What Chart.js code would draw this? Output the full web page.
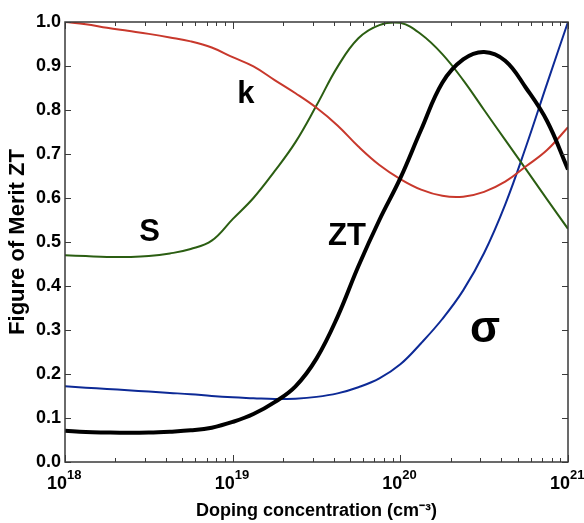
<!DOCTYPE html>
<html>
<head>
<meta charset="utf-8">
<script src="https://cdn.jsdelivr.net/npm/chart.js@4.4.0/dist/chart.umd.min.js"></script>
<style>
  html,body{margin:0;padding:0;background:#fff}
  #wrap{width:584px;height:523px}
</style>
</head>
<body>
<div id="wrap"><canvas id="chart" width="584" height="523"></canvas></div>
<script>
  // doping concentration (cm^-3), eight samples per decade
  const doping=[1e18,1.33e18,1.78e18,2.37e18,3.16e18,4.22e18,5.62e18,7.5e18,
    1e19,1.33e19,1.78e19,2.37e19,3.16e19,4.22e19,5.62e19,7.5e19,
    1e20,1.33e20,1.78e20,2.37e20,3.16e20,4.22e20,5.62e20,7.5e20,1e21];
  const kValues=[1.0,0.995,0.987,0.98,0.973,0.965,0.956,0.942,0.92,0.899,0.868,0.838,0.805,0.765,0.717,0.675,0.643,0.619,0.605,0.603,0.614,0.637,0.672,0.709,0.761];
  const sValues=[0.47,0.468,0.466,0.466,0.468,0.474,0.484,0.503,0.552,0.6,0.661,0.727,0.81,0.898,0.963,0.993,0.998,0.972,0.927,0.868,0.8,0.732,0.665,0.597,0.53];
  const ztValues=[0.071,0.068,0.067,0.0665,0.067,0.069,0.072,0.078,0.091,0.109,0.136,0.172,0.235,0.33,0.445,0.55,0.645,0.755,0.862,0.915,0.932,0.912,0.85,0.775,0.665];
  const sigmaValues=[0.172,0.169,0.166,0.163,0.16,0.157,0.154,0.15,0.147,0.145,0.143,0.144,0.148,0.156,0.17,0.19,0.222,0.27,0.325,0.39,0.475,0.585,0.717,0.86,1.0];
  const decades=[1e18,1e19,1e20,1e21];
  const yTicks=[0,0.1,0.2,0.3,0.4,0.5,0.6,0.7,0.8,0.9,1.0];

  const FONT='"Liberation Sans", Arial, sans-serif';

  function toPoints(values){
    return doping.map((d,i)=>({x:d,y:values[i]}));
  }

  // curve names written next to each curve, in data coordinates
  const curveLabels=[
    {text:'k',x:1.2e19,y:0.835,size:31},
    {text:'S',x:3.2e18,y:0.522,size:31},
    {text:'ZT',x:4.8e19,y:0.512,size:31},
    {text:'σ',x:3.2e20,y:0.3,size:44}
  ];

  const frameTicks={
    id:'frameTicks',
    afterDatasetsDraw(chart){
      const {ctx,chartArea:a,scales:{x,y}}=chart;
      ctx.save();
      ctx.strokeStyle='#3a3a3a';
      ctx.lineWidth=1;
      for(let e=18;e<21;e++){
        for(let m=1;m<=10;m++){
          const px=Math.round(x.getPixelForValue(m*Math.pow(10,e)))+0.5;
          const len=(m===1||m===10)?7:4;
          ctx.beginPath();
          ctx.moveTo(px,a.bottom);ctx.lineTo(px,a.bottom-len);
          ctx.moveTo(px,a.top);ctx.lineTo(px,a.top+len);
          ctx.stroke();
        }
      }
      yTicks.forEach(v=>{
        const py=Math.round(y.getPixelForValue(v))+0.5;
        ctx.beginPath();
        ctx.moveTo(a.left,py);ctx.lineTo(a.left+6,py);
        ctx.moveTo(a.right,py);ctx.lineTo(a.right-6,py);
        ctx.stroke();
      });
      ctx.lineWidth=1.5;
      ctx.strokeRect(a.left,a.top,a.right-a.left,a.bottom-a.top);
      ctx.fillStyle='#000';
      ctx.textAlign='center';
      ctx.textBaseline='middle';
      curveLabels.forEach(l=>{
        ctx.font='bold '+l.size+'px '+FONT;
        ctx.fillText(l.text,x.getPixelForValue(l.x),y.getPixelForValue(l.y));
      });
      // exponents of the decade labels ("10" itself is drawn by the axis)
      ctx.font='bold 13px '+FONT;
      ctx.textAlign='left';
      ctx.textBaseline='alphabetic';
      decades.forEach(v=>{
        const px=x.getPixelForValue(v);
        ctx.fillText(String(Math.round(Math.log10(v))),px+2,a.bottom+17);
      });
      ctx.restore();
    }
  };

  function lineSet(label,values,color,width,order){
    return {label,data:toPoints(values),borderColor:color,backgroundColor:color,borderWidth:width,pointRadius:0,fill:false,tension:0.4,order};
  }

  new Chart(document.getElementById('chart'),{
    type:'line',
    data:{datasets:[
      lineSet('ZT',ztValues,'#000000',4,0),
      lineSet('k',kValues,'#c8382c',2,1),
      lineSet('S',sValues,'#2b5e12',2,2),
      lineSet('σ',sigmaValues,'#0d2a96',2,3)
    ]},
    options:{
      responsive:false,
      animation:false,
      events:[],
      layout:{padding:{top:22,right:16,left:0,bottom:0}},
      plugins:{legend:{display:false},tooltip:{enabled:false}},
      scales:{
        x:{
          type:'logarithmic',
          min:1e18,max:1e21,
          afterBuildTicks:scale=>{scale.ticks=decades.map(v=>({value:v}));},
          afterFit:scale=>{scale.height=61;scale.paddingLeft=0;scale.paddingRight=0;},
          grid:{display:false,drawTicks:false},
          border:{display:false},
          ticks:{
            autoSkip:false,maxRotation:0,padding:11,labelOffset:-8,color:'#000',
            font:{family:FONT,size:18,weight:'bold'},
            callback:()=>'10'
          },
          title:{display:true,text:'Doping concentration (cm⁻³)',color:'#000',font:{family:FONT,size:18,weight:'bold'},padding:{top:0,bottom:1}}
        },
        y:{
          min:0,max:1,
          afterBuildTicks:scale=>{scale.ticks=yTicks.map(v=>({value:v}));},
          afterFit:scale=>{scale.width=65;scale.paddingTop=0;scale.paddingBottom=0;},
          grid:{display:false,drawTicks:false},
          border:{display:false},
          ticks:{padding:4,color:'#000',font:{family:FONT,size:18,weight:'bold'},callback:v=>v.toFixed(1)},
          title:{display:true,text:'Figure of Merit ZT',color:'#000',font:{family:FONT,size:22,weight:'bold'},padding:{top:5,bottom:0}}
        }
      }
    },
    plugins:[frameTicks]
  });
</script>
</body>
</html>
